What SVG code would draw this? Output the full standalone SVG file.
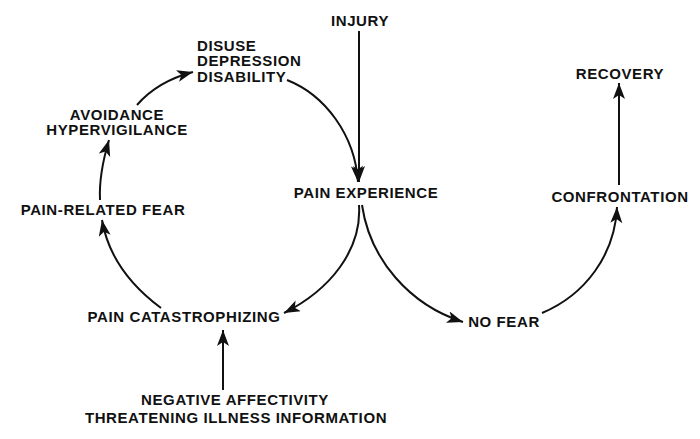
<svg xmlns="http://www.w3.org/2000/svg" width="700" height="439" viewBox="0 0 700 439">
<style>
text{font-family:"Liberation Sans",Arial,Helvetica,sans-serif;font-weight:bold;font-size:15px;letter-spacing:0.6px;fill:#111}
.c{text-anchor:middle}
.ln{fill:none;stroke:#111;stroke-width:2;marker-end:url(#ah)}
</style>
<defs>
<marker id="ah" markerUnits="userSpaceOnUse" markerWidth="18" markerHeight="14" refX="16" refY="6" orient="auto">
<path d="M0,0 L16,6 L0,12 L4,6 z" fill="#111"/>
</marker>
</defs>
<rect width="700" height="439" fill="#fff"/>
<g id="connectors">
<path class="ln" d="M359,31 L359,182"/>
<path class="ln" d="M287,80 C325,95 355,135 358,182"/>
<path class="ln" d="M359,205 C362,250 330,290 284,313"/>
<path class="ln" d="M161,308 C130,285 108,255 102,220"/>
<path class="ln" d="M100,200 C99,180 103,160 109,140"/>
<path class="ln" d="M137,105 C150,90 170,78 193,72"/>
<path class="ln" d="M362,205 C370,260 410,305 463,322"/>
<path class="ln" d="M542,313 C585,295 615,255 617,207"/>
<path class="ln" d="M619,185 L619,83"/>
<path class="ln" d="M223,390 L223,330"/>
</g>
<g id="injury"><text class="c" x="360" y="26">INJURY</text></g>
<g id="pain-experience"><text class="c" x="366" y="198">PAIN EXPERIENCE</text></g>
<g id="disuse"><text x="197" y="51">DISUSE</text><text x="197" y="66">DEPRESSION</text><text x="197" y="82">DISABILITY</text></g>
<g id="avoidance"><text class="c" x="117" y="120">AVOIDANCE</text><text class="c" x="117" y="135">HYPERVIGILANCE</text></g>
<g id="pain-related-fear"><text class="c" x="103" y="215">PAIN-RELATED FEAR</text></g>
<g id="pain-catastrophizing"><text class="c" x="184" y="322">PAIN CATASTROPHIZING</text></g>
<g id="negative-affectivity"><text class="c" x="235" y="405">NEGATIVE AFFECTIVITY</text><text class="c" x="236" y="423">THREATENING ILLNESS INFORMATION</text></g>
<g id="no-fear"><text class="c" x="504" y="327">NO FEAR</text></g>
<g id="confrontation"><text class="c" x="620" y="202">CONFRONTATION</text></g>
<g id="recovery"><text class="c" x="620" y="79">RECOVERY</text></g>
</svg>
